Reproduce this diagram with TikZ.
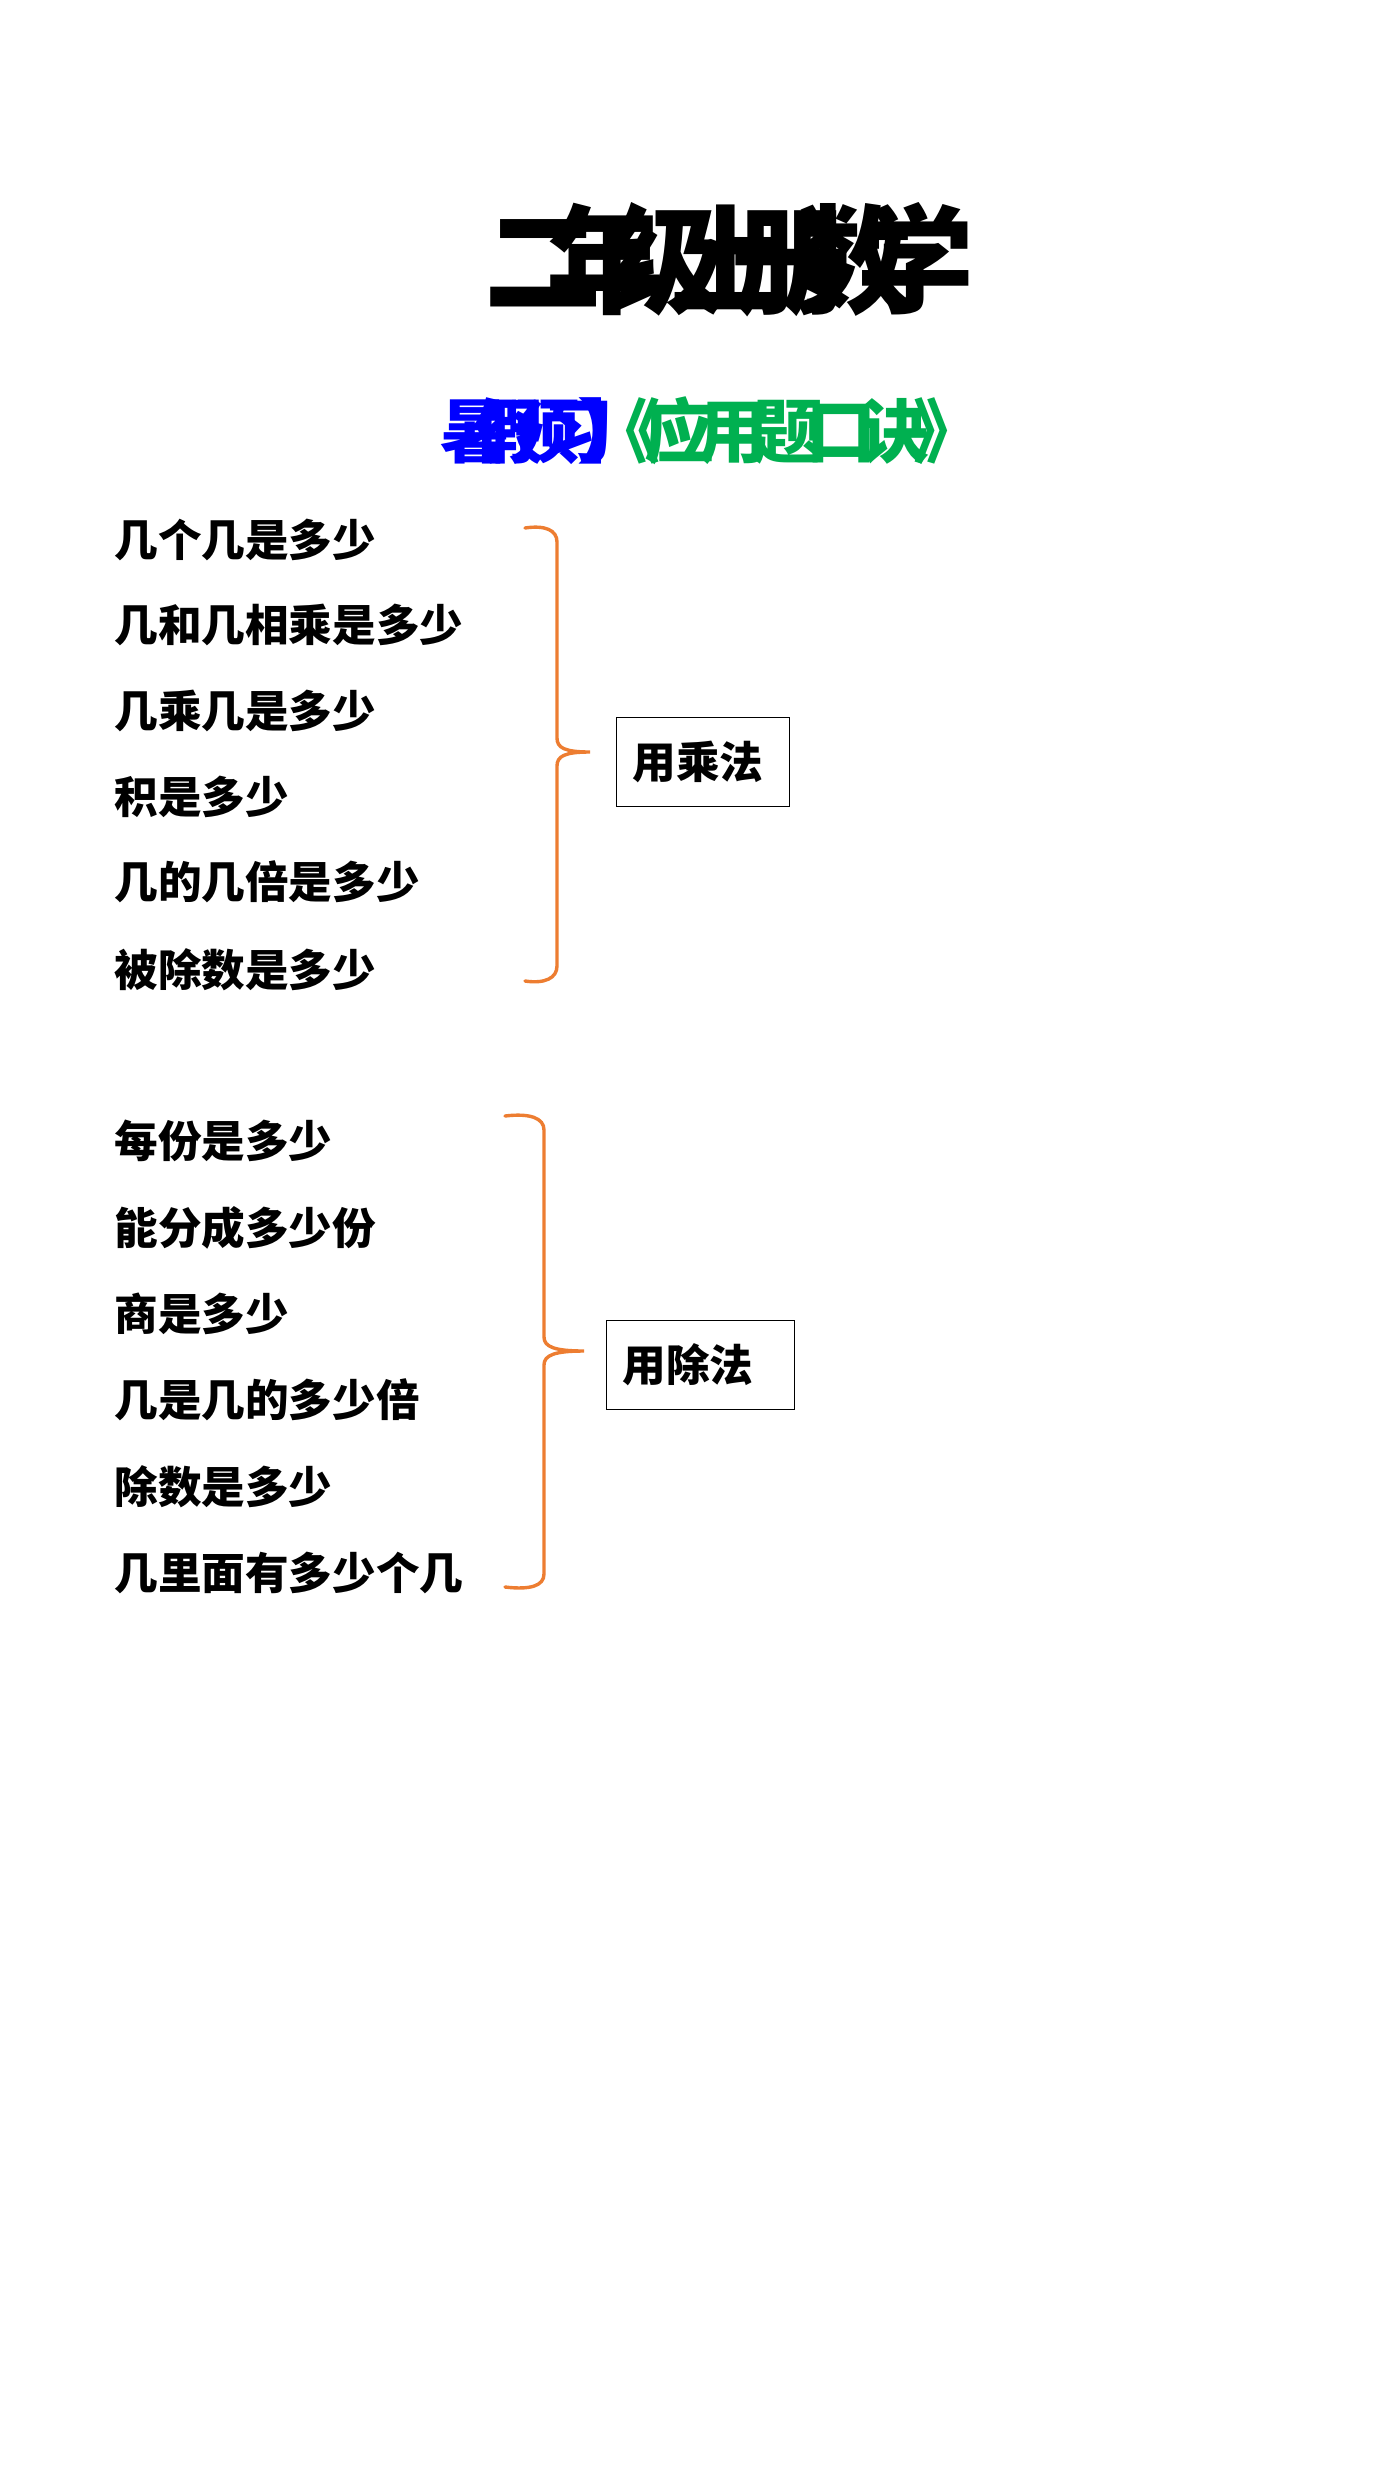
\documentclass[tikz,border=0pt]{standalone}
\usepackage{fontspec}
\newfontfamily\cjkbody{Noto Sans CJK SC}
\newfontfamily\cjktitle{Noto Sans CJK SC}[LetterSpace=-47.5]
\newfontfamily\cjksubA{Noto Sans CJK SC}[LetterSpace=-51]
\newfontfamily\cjksubB{Noto Sans CJK SC}[LetterSpace=-23]
\definecolor{braceorange}{HTML}{ED7D31}
\definecolor{subblue}{HTML}{0000FF}
\definecolor{subgreen}{HTML}{00B050}
\tikzset{
  item/.style={anchor=west, inner sep=0pt, font=\cjkbody\bfseries\fontsize{21.8pt}{23pt}\selectfont},
  brace/.style={draw=braceorange, line width=1.7pt, line cap=round},
  resbox/.style={draw=black, line width=0.7pt, anchor=north west, inner xsep=8pt, inner ysep=0pt,
    align=left, font=\cjkbody\bfseries\fontsize{21.8pt}{23pt}\selectfont}
}
\begin{document}
\begin{tikzpicture}[x=0.5pt,y=-0.5pt]
\fill[white] (0,0) rectangle (1400,2489);
\useasboundingbox (0,0) rectangle (1400,2489);
% title
\node[anchor=west, inner sep=0pt, font=\cjktitle\bfseries\fontsize{59pt}{60pt}\selectfont] (title) at (484,260) {二年级上册数学};
\node[anchor=west, inner sep=0pt, text=subblue, font=\cjksubA\bfseries\fontsize{35pt}{36pt}\selectfont] (subA) at (440,431) {暑假预习】};
\node[anchor=west, inner sep=0pt, text=subgreen, font=\cjksubB\bfseries\fontsize{35pt}{36pt}\selectfont] (subB) at (590,431) {《应用题口诀》};
% multiplication group
\node[item] (m1) at (114,540) {几个几是多少};
\node[item] (m2) at (114,625) {几和几相乘是多少};
\node[item] (m3) at (114,711) {几乘几是多少};
\node[item] (m4) at (114,797) {积是多少};
\node[item] (m5) at (114,882) {几的几倍是多少};
\node[item] (m6) at (114,970) {被除数是多少};
\draw[brace] (525,528) .. controls (545,525) and (557,530) .. (557,542) -- (557,738)
  .. controls (557,748) and (565,752) .. (590,752) coordinate (tipM)
  .. controls (565,752) and (557,756) .. (557,766) -- (557,966)
  .. controls (557,978) and (545,984) .. (525,981);
\node[resbox, minimum width=86.5pt, minimum height=44.5pt, text width=70.5pt] (mul) at (616,717) {用乘法};
% division group
\node[item] (d1) at (114,1141) {每份是多少};
\node[item] (d2) at (114,1228) {能分成多少份};
\node[item] (d3) at (114,1314) {商是多少};
\node[item] (d4) at (114,1400) {几是几的多少倍};
\node[item] (d5) at (114,1487) {除数是多少};
\node[item] (d6) at (114,1573) {几里面有多少个几};
\draw[brace] (505,1116) .. controls (530,1113) and (544,1118) .. (544,1130) -- (544,1337)
  .. controls (544,1347) and (555,1351) .. (584,1351) coordinate (tipD)
  .. controls (555,1351) and (544,1355) .. (544,1365) -- (544,1574)
  .. controls (544,1586) and (530,1590) .. (505,1587);
\node[resbox, minimum width=94pt, minimum height=44.5pt, text width=78pt] (div) at (606,1320) {用除法};
\end{tikzpicture}
\end{document}
